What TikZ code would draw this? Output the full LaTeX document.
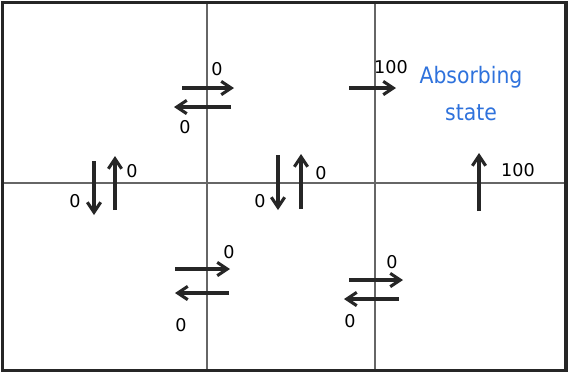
\documentclass[tikz,border=0pt]{standalone}
\usepackage{fontspec}
\setmainfont{DejaVu Sans}
\newfontfamily\statefont{DejaVu Sans Condensed}
\usetikzlibrary{arrows.meta}
\definecolor{arrowgray}{HTML}{262626}
\definecolor{gridgray}{HTML}{666666}
\definecolor{stateblue}{HTML}{2F72DC}

\begin{document}
\begin{tikzpicture}[
    x=0.75pt, y=-0.75pt,
    gridline/.style={draw=gridgray, line width=1.1pt},
    frameline/.style={draw=black!85, line width=2.3pt},
    move/.style={-{Straight Barb[length=7.5pt, width=10pt, line width=2.3pt]}, line width=2.7pt, draw=arrowgray},
    reward/.style={inner sep=0pt, font=\fontsize{13.2pt}{15pt}\selectfont, text=black},
    statelabel/.style={inner sep=0pt, font=\statefont\fontsize{17pt}{20pt}\selectfont, text=stateblue},
]
    \useasboundingbox (0,0) rectangle (568,372);

    % Grid of the six states
    \draw[gridline] (207,3) -- (207,370);
    \draw[gridline] (375,3) -- (375,370);
    \draw[gridline] (4,183) -- (566,183);
    \draw[frameline] (2.5,2.5) rectangle (566,370.5);

    % Top row: horizontal moves
    \draw[move] (182,88) -- (234,88);
    \draw[move] (231,107) -- (174,107);
    \node[reward] (r01) at (217,69) {0};
    \node[reward] (r10) at (185,127) {0};

    \draw[move] (349,88) -- (396,88);
    \node[reward] (r12) at (391,67) {100};

    % Absorbing state
    \node[statelabel] (absorb) at (471,77) {Absorbing};
    \node[statelabel] (state) at (471,113) {state};

    % Vertical moves
    \draw[move] (94,161) -- (94,215);
    \draw[move] (115,210) -- (115,156);
    \node[reward] (r30) at (132,171) {0};
    \node[reward] (r03) at (75,201) {0};

    \draw[move] (278,155) -- (278,210);
    \draw[move] (301,209) -- (301,154);
    \node[reward] (r41) at (321,173) {0};
    \node[reward] (r14) at (260,201) {0};

    \draw[move] (479,211) -- (479,153);
    \node[reward] (r52) at (518,170) {100};

    % Bottom row: horizontal moves
    \draw[move] (175,269) -- (230,269);
    \draw[move] (229,293) -- (175,293);
    \node[reward] (r34) at (229,252) {0};
    \node[reward] (r43) at (181,325) {0};

    \draw[move] (349,280) -- (403,280);
    \draw[move] (399,299) -- (344,299);
    \node[reward] (r45) at (392,262) {0};
    \node[reward] (r54) at (350,321) {0};
\end{tikzpicture}
\end{document}
